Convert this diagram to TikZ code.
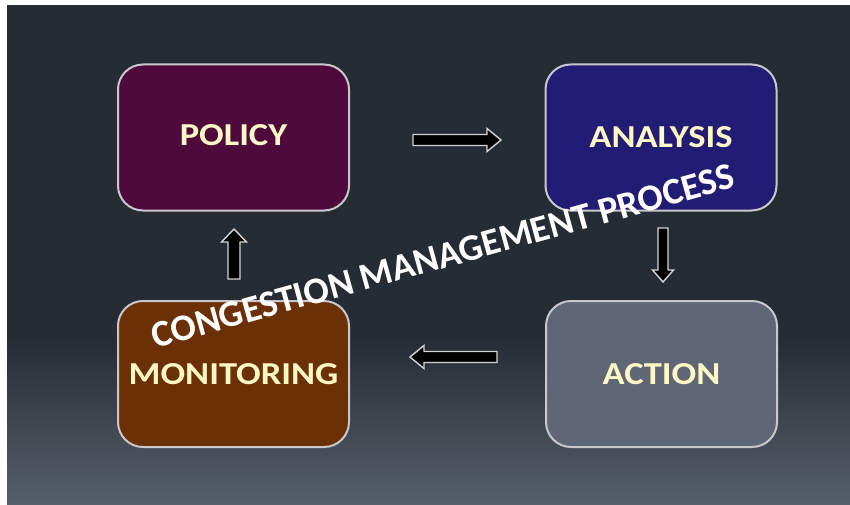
\documentclass[tikz,border=0pt]{standalone}
\usepackage{fontspec}
\setmainfont{Carlito}

\definecolor{bgtop}{HTML}{262C34}
\definecolor{bgbot}{HTML}{56606B}
\definecolor{boxline}{HTML}{C8C8CC}
\definecolor{policyfill}{HTML}{4F0A3C}
\definecolor{analysisfill}{HTML}{231C75}
\definecolor{actionfill}{HTML}{5F6675}
\definecolor{monitorfill}{HTML}{6B3005}
\definecolor{labeltext}{HTML}{FFF7C6}
\definecolor{arrowline}{HTML}{D4D4D4}

\tikzset{
  stagebox/.style={draw=boxline, line width=2pt, rounded corners=25pt,
    minimum width=231pt, minimum height=146pt, inner sep=0pt,
    text=labeltext, font=\fontsize{32}{36}\selectfont\bfseries},
  flowarrow/.style={draw=arrowline, fill=black, line width=1.4pt, line join=miter},
}

% block arrow: start point, direction angle, length, shaft half-width,
% head half-width, head length
\newcommand\blockarrow[6]{%
  \draw[flowarrow, shift={(#1)}, rotate=#2]
    (0,-#4) -- ({#3-#6},-#4) -- ({#3-#6},-#5) -- (#3,0)
    -- ({#3-#6},#5) -- ({#3-#6},#4) -- (0,#4) -- cycle;}

\newcommand\widecaps[1]{\scalebox{1.14}[1]{#1}}

\begin{document}
\begin{tikzpicture}[x=1pt, y=-1pt]
  % page and dark backdrop
  \useasboundingbox (0,0) rectangle (850,505);
  \fill[white] (0,0) rectangle (850,505);
  \fill[bgtop] (7,5) rectangle (850,339);
  \shade[top color=bgtop, bottom color=bgbot] (7,338) rectangle (850,505);

  % the four stages
  \node[stagebox, fill=policyfill]   (policy)   at (233.5,137.5) {\raisebox{5pt}{\widecaps{POLICY}}};
  \node[stagebox, fill=analysisfill] (analysis) at (661,137.5)   {\widecaps{ANALYSIS}};
  \node[stagebox, fill=actionfill]   (action)   at (661.5,374)   {\widecaps{ACTION}};
  \node[stagebox, fill=monitorfill]  (monitor)  at (233.5,374)   {\widecaps{MONITORING}};

  % block arrows between the stages
  \coordinate (toanalysis) at (413,140);
  \coordinate (toaction)   at (663,228);
  \coordinate (tomonitor)  at (497,357);
  \coordinate (topolicy)   at (234,279);
  \blockarrow{toanalysis}{0}{88}{5.5}{11.5}{14}
  \blockarrow{toaction}{-90}{54}{5}{10.5}{12}
  \blockarrow{tomonitor}{180}{87}{5.5}{11.5}{14}
  \blockarrow{topolicy}{90}{50}{6}{12.5}{13}

  % diagonal title
  \node[text=white, font=\fontsize{37.5}{40}\selectfont\bfseries, rotate=15.5,
        inner sep=0pt] (title) at (443,256) {CONGESTION MANAGEMENT PROCESS};
\end{tikzpicture}
\end{document}
